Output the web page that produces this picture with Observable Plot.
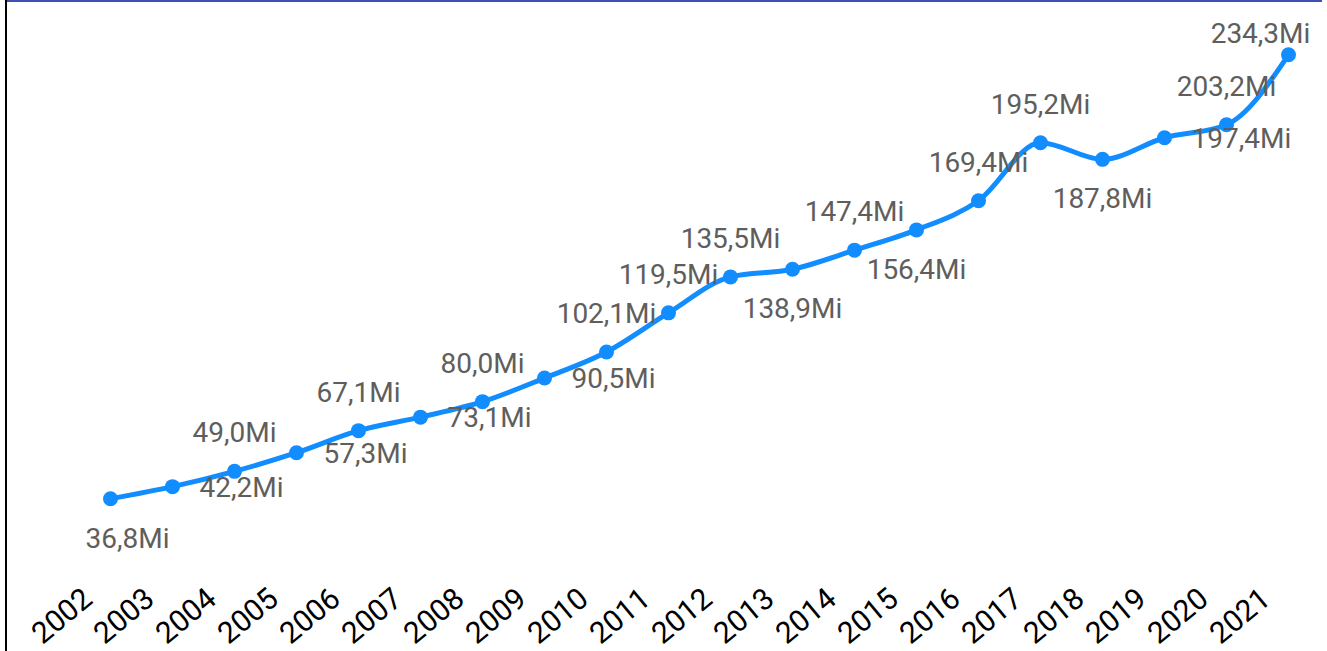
<!DOCTYPE html>
<html>
<head>
<meta charset="utf-8">
<script src="https://cdn.jsdelivr.net/npm/d3@7"></script>
<script src="https://cdn.jsdelivr.net/npm/@observablehq/plot@0.6"></script>
<style>
  html, body { margin: 0; padding: 0; background: #fff; }
  #wrap { position: relative; width: 1327px; height: 651px; overflow: hidden; }
  #topline { position: absolute; left: 6px; top: 0; width: 1316px; height: 2px; background: #3F4FB3; }
  #leftline { position: absolute; left: 5px; top: 0; width: 2px; height: 651px; background: #000; }
</style>
</head>
<body>
<div id="wrap"></div>
<script>
const years = [2002, 2003, 2004, 2005, 2006, 2007, 2008, 2009, 2010, 2011,
               2012, 2013, 2014, 2015, 2016, 2017, 2018, 2019, 2020, 2021];
const values = [36.8, 42.2, 49.0, 57.3, 67.1, 73.1, 80.0, 90.5, 102.1, 119.5,
                135.5, 138.9, 147.4, 156.4, 169.4, 195.2, 187.8, 197.4, 203.2, 234.3];
const labelPlace = ["below-right", "right", "above", "right", "above", "right", "above", "right", "above", "above",
                    "above", "below", "above", "below", "above", "above", "below", "right", "above", "above-left"];
const unit = "Mi";

const rows = years.map((y, i) => ({year: y, value: values[i], place: labelPlace[i],
  label: values[i].toFixed(1).replace(".", ",") + unit}));

const blue = "#118DFF";
const labelColor = "#605E5C";

const placeStyle = {
  "above":       {dx: 0,   dy: -38, textAnchor: "middle"},
  "below":       {dx: 0,   dy: 40,  textAnchor: "middle"},
  "below-right": {dx: 17,  dy: 40,  textAnchor: "middle"},
  "right":       {dx: 27,  dy: 1,   textAnchor: "start"},
  "above-left":  {dx: -28, dy: -21, textAnchor: "middle"}
};

const labelMarks = Object.entries(placeStyle).map(([p, s]) =>
  Plot.text(rows.filter(d => d.place === p), {
    x: "year", y: "value", text: "label",
    dx: s.dx, dy: s.dy, textAnchor: s.textAnchor, lineAnchor: "middle",
    fill: labelColor, fontSize: 28
  })
);

const chart = Plot.plot({
  width: 1327,
  height: 651,
  marginLeft: 106,
  marginRight: 35,
  marginTop: 19,
  marginBottom: 70,
  style: {fontFamily: "Roboto, sans-serif", background: "white", overflow: "visible"},
  x: {type: "point", domain: years, padding: 0, axis: null},
  y: {domain: [0, 250], axis: null},
  marks: [
    Plot.line(rows, {x: "year", y: "value", stroke: blue, strokeWidth: 5, curve: "monotone-x"}),
    Plot.dot(rows, {x: "year", y: "value", r: 7.5, fill: blue, stroke: "none"}),
    ...labelMarks,
    Plot.text(years, {
      x: d => d, text: d => String(d), frameAnchor: "bottom",
      dx: -30, dy: 4, rotate: -40, textAnchor: "end", lineAnchor: "top",
      fill: "#000", fontSize: 30
    })
  ]
});

const wrap = document.getElementById("wrap");
wrap.appendChild(chart);
const tl = document.createElement("div"); tl.id = "topline"; wrap.appendChild(tl);
const ll = document.createElement("div"); ll.id = "leftline"; wrap.appendChild(ll);
</script>
</body>
</html>
